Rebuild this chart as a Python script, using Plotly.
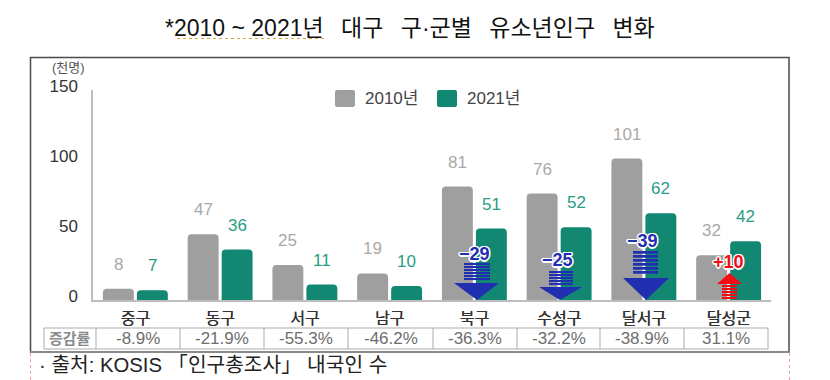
import plotly.graph_objects as go

title = "*2010 ~ 2021년 \u2009 대구 \u2009 구·군별 \u2009 유소년인구 \u2009 변화"
categories = ["중구", "동구", "서구", "남구", "북구", "수성구", "달서구", "달성군"]
v2010 = [8, 47, 25, 19, 81, 76, 101, 32]
v2021 = [7, 36, 11, 10, 51, 52, 62, 42]
rates = ["-8.9%", "-21.9%", "-55.3%", "-46.2%", "-36.3%", "-32.2%", "-38.9%", "31.1%"]
series_names = ["2010년", "2021년"]
y_ticks = [0, 50, 100, 150]

GRAY, TEAL, BLUE, RED = "#9f9f9f", "#128873", "#1f2fb0", "#f00d14"
SANS = "Liberation Sans, Noto Sans CJK KR, sans-serif"
L, R, T, B = 93, 771, 90, 300


def px(x):
    return (x - L) / (R - L)


def py(y):
    return (B - y) / (B - T)


shapes, notes = [], []


def rect(x0, y0, x1, y1, fill="rgba(0,0,0,0)", line=None, width=1):
    shapes.append(dict(type="rect", xref="paper", yref="paper", x0=px(x0), x1=px(x1), y0=py(y0), y1=py(y1),
                       fillcolor=fill, line=dict(color=line, width=width if line else 0)))


def seg(x0, y0, x1, y1, color, width=1, dash="solid"):
    shapes.append(dict(type="line", xref="paper", yref="paper", x0=px(x0), x1=px(x1), y0=py(y0), y1=py(y1),
                       line=dict(color=color, width=width, dash=dash)))


def label(x, y, text, size, color, anchor="center", weight=None, shadow=None):
    font = dict(size=size, color=color, family=SANS)
    if weight:
        font["weight"] = weight
    if shadow:
        font["shadow"] = shadow
    notes.append(dict(xref="paper", yref="paper", x=px(x), y=py(y), text=text, showarrow=False,
                      xanchor=anchor, yanchor="middle", font=font))


# frame
rect(30.5, 57.5, 789, 352, line="#4a4a4a", width=1.5)
seg(30, 352, 789, 352, "#8a8a8a", 2)
seg(30.5, 353, 30.5, 380, "#f2a0a0", 1, "dot")
seg(789.5, 353, 789.5, 380, "#f2a0a0", 1, "dot")

# title
label(410, 28, title, 23, "#111111")
seg(177, 38.5, 326, 38.5, "#d9a441", 1, "dot")

# unit, source
label(68, 68, "(천명)", 13, "#555555")
label(37, 365, "· 출처: KOSIS 「인구총조사」 내국인 수", 20.3, "#222222", anchor="left")

# legend
for i, (x0, c) in enumerate([(335, GRAY), (437, TEAL)]):
    shapes.append(dict(type="path", xref="paper", yref="paper", fillcolor=c, line=dict(width=0),
                       path=f"M{px(x0 + 2)},{py(90)} L{px(x0 + 18)},{py(90)} Q{px(x0 + 20)},{py(90)} {px(x0 + 20)},{py(92)} "
                            f"L{px(x0 + 20)},{py(105)} Q{px(x0 + 20)},{py(107)} {px(x0 + 18)},{py(107)} "
                            f"L{px(x0 + 2)},{py(107)} Q{px(x0)},{py(107)} {px(x0)},{py(105)} "
                            f"L{px(x0)},{py(92)} Q{px(x0)},{py(90)} {px(x0 + 2)},{py(90)} Z"))
    label(x0 + 28, 98.5, series_names[i], 17, "#444444", anchor="left")

# table
TY0, TY1 = 328, 349
edges = [44, 96, 180, 264, 348, 433, 517, 600, 684, 768]
rect(edges[0], TY0, edges[-1], TY1, line="#ababab", width=1)
for e in edges[1:-1]:
    seg(e, TY0, e, TY1, "#ababab", 1)
label((edges[0] + edges[1]) / 2, 338.5, "증감률", 15, "#8a8a8a", weight=700)
for i, r in enumerate(rates):
    label((edges[i + 1] + edges[i + 2]) / 2, 338.5, r, 17, "#6e6e6e")


# change arrows
def stripes(x0, x1, y0, y1, n, color):
    h = (y1 - y0) / n
    for k in range(n):
        rect(x0, y0 + k * h, x1, y0 + k * h + h * 0.68, fill=color)


def tri(tipx, tipy, basey, x0, x1, color):
    shapes.append(dict(type="path", xref="paper", yref="paper", fillcolor=color, line=dict(width=0),
                       path=f"M{px(tipx)},{py(tipy)} L{px(x0)},{py(basey)} L{px(x1)},{py(basey)} Z"))


OUT = ",".join(f"{a}px {b}px 0 #fff" for a, b in
               [(1.5, 0), (-1.5, 0), (0, 1.5), (0, -1.5), (1, 1), (-1, -1), (1, -1), (-1, 1)])
stripes(464, 490, 263, 281, 6, BLUE)
tri(477, 300, 283, 454, 499, BLUE)
label(475, 254, "−29", 18, BLUE, weight=700, shadow=OUT)
stripes(549, 573, 271, 286, 5, BLUE)
tri(560, 300, 287, 539, 582, BLUE)
label(557, 260, "−25", 18, BLUE, weight=700, shadow=OUT)
stripes(633, 658, 251, 275, 6, BLUE)
tri(646, 300, 278, 623, 669, BLUE)
label(642, 241, "−39", 18, BLUE, weight=700, shadow=OUT)
stripes(722, 737, 285, 300, 5, RED)
tri(729.5, 273, 284, 717, 742, RED)
label(728, 262, "+10", 18, RED, weight=700, shadow=OUT)

# value labels, tied to the bars
for name, vals, xs, col in [("a", v2010, -17, "#a9a9a9"), ("b", v2021, 17, "#2a9d84")]:
    for c, v in zip(categories, vals):
        notes.insert(0, dict(x=c, y=v, xref="x", yref="y", text=str(v), showarrow=False, xshift=xs, yshift=24.5,
                             yanchor="middle", font=dict(size=17, color=col, family=SANS)))

fig = go.Figure()
fig.add_bar(name=series_names[0], x=categories, y=v2010, marker=dict(color=GRAY, line=dict(width=0)))
fig.add_bar(name=series_names[1], x=categories, y=v2021, marker=dict(color=TEAL, line=dict(width=0)))
fig.update_layout(
    width=830, height=380, margin=dict(l=L, r=830 - R, t=T, b=380 - B, autoexpand=False),
    paper_bgcolor="white", plot_bgcolor="white", showlegend=False,
    barmode="group", bargap=0.198, bargroupgap=0.09, barcornerradius=4,
    shapes=shapes, annotations=notes, font=dict(family=SANS),
    xaxis=dict(type="category", showline=True, linecolor="#bdbdbd", linewidth=1.5, showgrid=False, ticks="",
               ticklabelstandoff=3, tickfont=dict(size=16, color="#333333", shadow="0.4px 0 0 #333333")),
    yaxis=dict(range=[0, 150], tickvals=y_ticks, showline=True, linecolor="#bdbdbd", linewidth=1.5, showgrid=False,
               zeroline=False, ticks="", ticklabelstandoff=10, ticklabelshift=-4, tickfont=dict(size=17, color="#333333")),
)
fig.write_html("out.html", config=dict(displayModeBar=False),
               post_script="document.body.style.margin='0';document.documentElement.style.overflow='hidden';")
